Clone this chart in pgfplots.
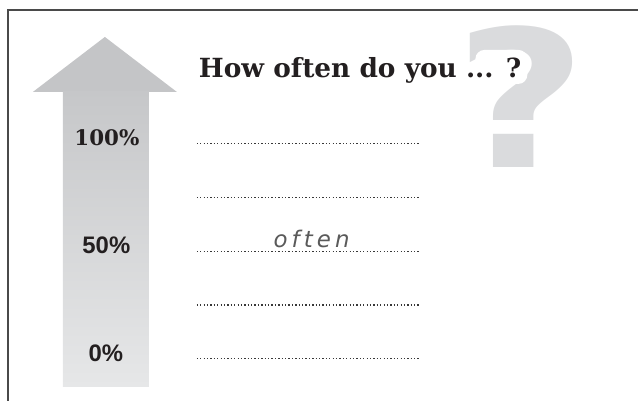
\documentclass[border=0pt]{standalone}
\usepackage{pgfplots}
\pgfplotsset{compat=1.18}
\usepackage{fontspec}
\setmainfont{Liberation Sans}
\newfontfamily\slab{DejaVu Serif}
\newfontfamily\qfont{DejaVu Sans}
\newfontfamily\handfont[LetterSpace=18]{DejaVu Sans}
\definecolor{framec}{HTML}{4A4A4A}
\definecolor{headc}{HTML}{C4C5C7}
\definecolor{shafttop}{HTML}{C6C7C9}
\definecolor{shaftbot}{HTML}{E6E7E8}
\definecolor{qcol}{HTML}{DADBDD}
\definecolor{dotc}{HTML}{383838}
\definecolor{txt}{HTML}{231F20}
\definecolor{hand}{HTML}{5A5A5A}
\begin{document}
\begin{tikzpicture}
\begin{axis}[scale only axis, width=639bp, height=401bp,
  xmin=0, xmax=639, ymin=0, ymax=401, y dir=reverse,
  hide axis, clip=false]
\path[draw=none] (axis cs:0,0) rectangle (axis cs:639,401);
% frame
\addplot[framec, line width=1.6bp] coordinates {(8,401) (8,10) (639,10)};
% big question mark
\node[anchor=base, xscale=1.2, text=qcol, font=\qfont\bfseries\fontsize{192}{192}\selectfont, inner sep=0pt] at (axis cs:522,168) {?};
\fill[white, rounded corners=9bp] (axis cs:476,50) rectangle (axis cs:528,84);
% title
\node[anchor=base west, text=txt, font=\slab\bfseries\fontsize{26.5}{26.5}\selectfont, inner sep=0pt] at (axis cs:199,78) {How often do you ... ?};
% arrow
\addplot[draw=none, fill=headc] coordinates {(33,92) (105,37) (177,92)};
\addplot[draw=none, top color=shafttop, bottom color=shaftbot] coordinates {(63,91.5) (149,91.5) (149,387) (63,387)};
% dotted answer lines
\addplot[dotc, line width=1.3bp, dash pattern=on 1.3bp off 2.1bp] coordinates {(197,143.5) (420,143.5)};
\addplot[dotc, line width=1.3bp, dash pattern=on 1.3bp off 2.1bp] coordinates {(197,198) (420,198)};
\addplot[dotc, line width=1.3bp, dash pattern=on 1.3bp off 2.1bp] coordinates {(197,251.7) (420,251.7)};
\addplot[dotc, line width=1.3bp, dash pattern=on 1.3bp off 2.1bp] coordinates {(197,305.5) (420,305.5)};
\addplot[dotc, line width=1.3bp, dash pattern=on 1.3bp off 2.1bp] coordinates {(197,359) (420,359)};
% labels
\node[anchor=base, text=txt, font=\slab\bfseries\fontsize{21.5}{21.5}\selectfont, inner sep=0pt] at (axis cs:107,146) {100\%};
\node[anchor=base, text=txt, font=\bfseries\fontsize{24}{24}\selectfont, inner sep=0pt] at (axis cs:106.5,254) {50\%};
\node[anchor=base, text=txt, font=\bfseries\fontsize{24}{24}\selectfont, inner sep=0pt] at (axis cs:106,362) {0\%};
\node[anchor=base, text=hand, font=\handfont\itshape\fontsize{23}{23}\selectfont, inner sep=0pt] at (axis cs:312,248) {often};
\end{axis}
\end{tikzpicture}
\end{document}
